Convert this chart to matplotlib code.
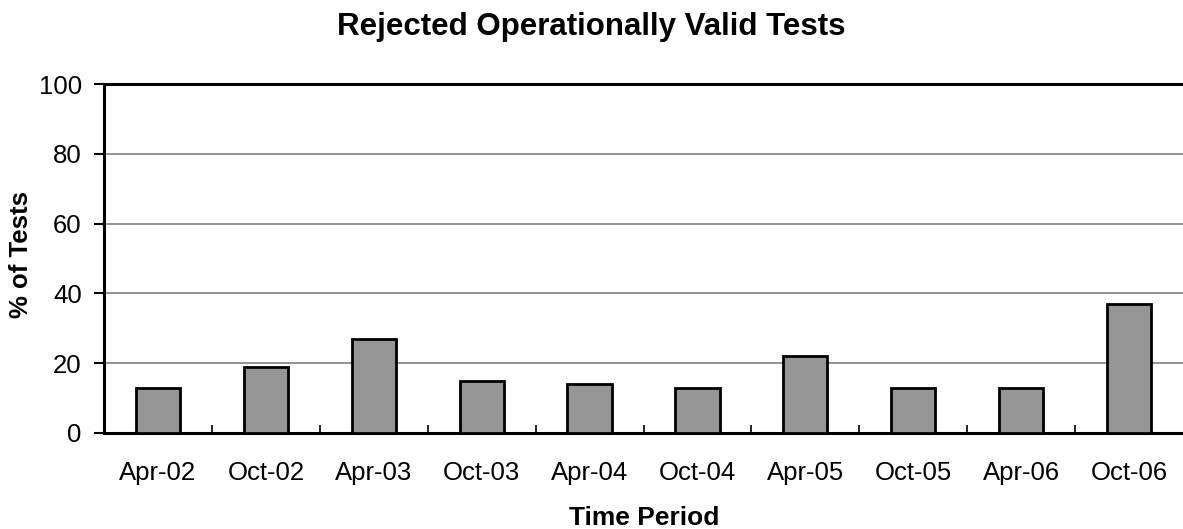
import matplotlib.pyplot as plt
import numpy as np

plt.rcParams['font.family'] = ['Liberation Sans', 'DejaVu Sans']

periods = ['Apr-02', 'Oct-02', 'Apr-03', 'Oct-03', 'Apr-04',
           'Oct-04', 'Apr-05', 'Oct-05', 'Apr-06', 'Oct-06']
pct_rejected = [13, 19, 27, 15, 14, 13, 22, 13, 13, 37]

fig = plt.figure(figsize=(11.83, 5.29), dpi=100)
ax = fig.add_axes([104/1183, 96/529, 1079/1183, 349/529])

x_pos = np.arange(len(periods))
ax.bar(x_pos, pct_rejected, width=0.41, color='#969696',
       edgecolor='black', linewidth=2, zorder=3)

ax.set_xlim(-0.5, len(periods) - 0.5)
ax.set_ylim(0, 100)
ax.set_yticks([0, 20, 40, 60, 80, 100])
ax.yaxis.grid(True, color='#808080', linewidth=1.2, zorder=0)

ax.set_xticks(x_pos)
ax.set_xticklabels(periods)
ax.set_xticks(np.arange(0.5, len(periods) - 0.5, 1), minor=True)
ax.tick_params(axis='x', which='major', length=0, labelsize=18.5, pad=20)
ax.tick_params(axis='x', which='minor', direction='in', length=6, width=1.2)
ax.tick_params(axis='y', length=7, width=1.5, labelsize=18.5, pad=9)

for side in ['left', 'bottom', 'top']:
    ax.spines[side].set_linewidth(2.2)
ax.spines['right'].set_visible(False)

# axis labels and title placed in figure pixels
fig.text(644/1183, (529 - 525)/529, 'Time Period', fontsize=19,
         fontweight='bold', ha='center', va='baseline')
fig.text(21/1183, (529 - 255)/529, '% of Tests', fontsize=18.5,
         fontweight='bold', ha='center', va='center', rotation=90)
fig.text(591/1183, (529 - 35)/529, 'Rejected Operationally Valid Tests',
         fontsize=22.5, fontweight='bold', ha='center', va='baseline')

fig.savefig('out.png', dpi=100)
